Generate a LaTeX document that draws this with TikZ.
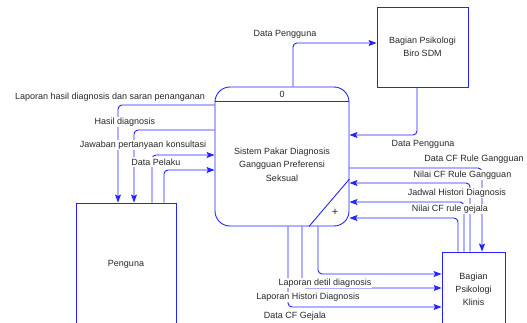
\documentclass[tikz,border=0pt]{standalone}
\usepackage{fontspec}
\setmainfont{Liberation Sans}
\usetikzlibrary{arrows.meta}
\definecolor{flowblue}{RGB}{35,35,255}
\definecolor{ink}{RGB}{40,40,40}
\begin{document}
\begin{tikzpicture}[x=1pt,y=-1pt,
  font=\fontsize{9}{13}\selectfont,
  entity/.style={draw=flowblue, line width=0.9pt, fill=white, inner sep=0pt, align=center, text=ink},
  process/.style={draw=flowblue, line width=0.9pt, rounded corners=15pt, inner sep=0pt},
  flow/.style={draw=flowblue, line width=0.9pt, rounded corners=4pt},
  arr/.style={flow, -{Stealth[length=8pt,width=6pt,inset=1.5pt]}},
  lbl/.style={fill=white, inner sep=1pt, text=ink},
]
\useasboundingbox (0,0) rectangle (527,323);
\clip (0,0) rectangle (527,323);

% process 0
\node[process, minimum width=134pt, minimum height=139pt] (proc) at (282,156.5) {};
\draw[draw=flowblue, line width=0.9pt] (proc.west |- 0,101) -- (proc.east |- 0,101);
\draw[draw=flowblue, line width=0.9pt] (proc.east |- 0,179) -- (proc.south -| 309,0);
\node[text=ink] (pnum) at (282,94) {0};
\node[text=ink, font=\fontsize{11}{13}\selectfont] (plus) at (335,212) {+};
\node[align=center, text=ink, font=\fontsize{9}{13.5}\selectfont] (ptext) at (282,164.5)
  {Sistem Pakar Diagnosis\\Gangguan Preferensi\\Seksual};

% external entities
\node[entity, minimum width=91pt, minimum height=80pt] (biro) at (422.5,47) {Bagian Psikologi\\Biro SDM};
\node[entity, minimum width=100pt, minimum height=122pt] (user) at (126,264) {Penguna};
\node[entity, minimum width=63pt, minimum height=74pt] (klinis) at (473.5,289) {Bagian\\Psikologi\\Klinis};

% flows with the HR bureau
\draw[arr] (proc.north -| 293,0) |- (biro.west |- 0,43);
\draw[arr] (biro.south -| 417,0) |- (proc.east |- 0,135);

% flows with the clinical section (right side)
\draw[arr] (proc.east |- 0,168) -| (klinis.north -| 482,0);
\draw[arr] (klinis.north -| 470,0) |- (proc.east |- 0,183);
\draw[arr] (klinis.north -| 464,0) |- (proc.east |- 0,202);
\draw[arr] (klinis.north -| 458,0) |- (proc.east |- 0,218);

% flows with the clinical section (bottom)
\draw[arr] (proc.south -| 318,0) |- (klinis.west |- 0,274);
\draw[arr] (proc.south -| 302,0) |- (klinis.west |- 0,288);
\draw[arr] (proc.south -| 288,0) |- (klinis.west |- 0,307);

% flows with the user
\draw[arr] (proc.west |- 0,105) -| (user.north -| 118,0);
\draw[arr] (proc.west |- 0,130) -| (user.north -| 134,0);
\draw[arr] (user.north -| 152,0) |- (proc.west |- 0,155);
\draw[arr] (user.north -| 164,0) |- (proc.west |- 0,170);

% flow labels
\node[lbl] (l1) at (285,34) {Data Pengguna};
\node[lbl] (l2) at (423,144) {Data Pengguna};
\node[lbl] (l3) at (474,159) {Data CF Rule Gangguan};
\node[lbl] (l4) at (462.5,175) {Nilai CF Rule Gangguan};
\node[lbl] (l5) at (457,193) {Jadwal Histori Diagnosis};
\node[lbl] (l6) at (450,209) {Nilai CF rule gejala};
\node[lbl] (l7) at (325,283) {Laporan detil diagnosis};
\node[lbl] (l8) at (308,297) {Laporan Histori Diagnosis};
\node[lbl] (l9) at (295,316) {Data CF Gejala};
\node[lbl] (l10) at (110,97) {Laporan hasil diagnosis dan saran penanganan};
\node[lbl] (l11) at (125,122) {Hasil diagnosis};
\node[lbl] (l12) at (143,145) {Jawaban pertanyaan konsultasi};
\node[lbl, inner ysep=2pt] (l13) at (156,162) {Data Pelaku};
\end{tikzpicture}
\end{document}
